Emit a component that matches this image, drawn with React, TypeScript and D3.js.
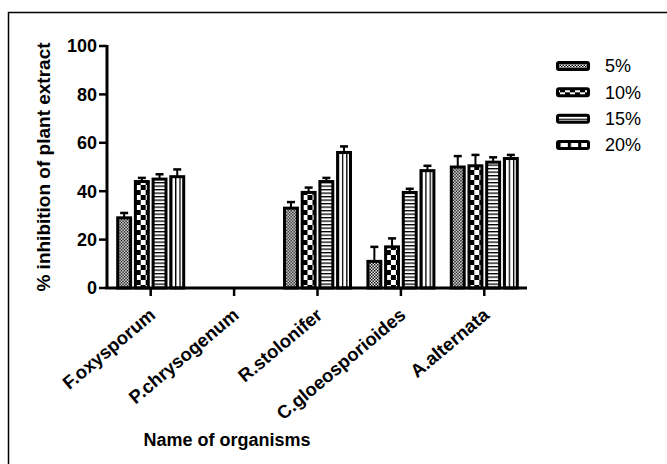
import * as d3 from 'd3';

// organisms on the x axis
const categories = ['F.oxysporum', 'P.chrysogenum', 'R.stolonifer', 'C.gloeosporioides', 'A.alternata'];
const seriesNames = ['5%', '10%', '15%', '20%'];

// mean % inhibition per concentration
const mean5 = [29, 0, 33, 11, 50];
const mean10 = [44, 0, 39.5, 17, 50.5];
const mean15 = [45, 0, 44, 39.5, 52];
const mean20 = [46, 0, 56, 48.5, 53.5];

// error (upper half only)
const err5 = [2, 0, 2.5, 6, 4.5];
const err10 = [1.5, 0, 2, 3.5, 4.5];
const err15 = [2, 0, 1.5, 1.5, 2];
const err20 = [3, 0, 2.5, 2, 1.5];

const yTicks = [0, 20, 40, 60, 80, 100];

const means = [mean5, mean10, mean15, mean20];
const errs = [err5, err10, err15, err20];
const patternIds = ['p5', 'p10', 'p15', 'p20'];

const width = 667;
const height = 464;
const font = 'Arial, "Liberation Sans", sans-serif';

const App = () => {
  const axisX = 107;
  const axisEnd = 527;

  const x0 = d3.scaleBand()
    .domain(categories)
    .range([109, 526]);

  const x1 = d3.scaleBand()
    .domain(seriesNames)
    .range([-33, 33])
    .paddingInner(0.27);

  const y = d3.scaleLinear()
    .domain([0, 100])
    .range([288, 46]);

  const legendY = d3.scalePoint()
    .domain(seriesNames)
    .range([66, 145]);

  return (
    <svg
      width={width}
      height={height}
      viewBox={`0 0 ${width} ${height}`}
      style={{ position: 'absolute', left: 0, top: 0, background: '#fff' }}
    >
      <defs>
        <pattern id="p5" patternUnits="userSpaceOnUse" width={3} height={3}>
          <rect width={3} height={3} fill="#fff" />
          <rect width={1.5} height={1.5} fill="#000" />
          <rect x={1.5} y={1.5} width={1.5} height={1.5} fill="#000" />
        </pattern>
        <pattern id="p10" patternUnits="userSpaceOnUse" width={10} height={10}>
          <rect width={10} height={10} fill="#000" />
          <rect width={5} height={5} fill="#fff" />
          <rect x={5} y={5} width={5} height={5} fill="#fff" />
        </pattern>
        <pattern id="p15" patternUnits="userSpaceOnUse" width={4} height={3.5}>
          <rect width={4} height={3.5} fill="#fff" />
          <rect width={4} height={1.3} fill="#000" />
        </pattern>
        <pattern id="p20" patternUnits="objectBoundingBox" patternContentUnits="objectBoundingBox" width={0.3333} height={1}>
          <rect width={0.3333} height={1} fill="#fff" />
          <rect width={0.1} height={1} fill="#000" />
        </pattern>
      </defs>

      {/* outer frame */}
      <rect x={8.5} y={12.5} width={700} height={500} fill="none" stroke="#000" strokeWidth={1.5} />

      {/* bars */}
      {categories.map((cat, ci) => (
        <g key={cat} transform={`translate(${x0(cat) + x0.bandwidth() / 2},0)`}>
          {seriesNames.map((s, si) => {
            const v = means[si][ci];
            if (!v) return null;
            const e = errs[si][ci];
            const bx = x1(s);
            const cx = bx + x1.bandwidth() / 2;
            return (
              <g key={s}>
                <line x1={cx} x2={cx} y1={y(v)} y2={y(v + e)} stroke="#000" strokeWidth={2} />
                <line x1={cx - 4} x2={cx + 4} y1={y(v + e)} y2={y(v + e)} stroke="#000" strokeWidth={2.5} />
                <rect
                  x={bx}
                  y={y(v)}
                  width={x1.bandwidth()}
                  height={y(0) - y(v)}
                  fill={`url(#${patternIds[si]})`}
                  stroke="#000"
                  strokeWidth={3}
                />
              </g>
            );
          })}
        </g>
      ))}

      {/* y axis */}
      <line x1={axisX} x2={axisX} y1={y(100) - 1} y2={y(0)} stroke="#000" strokeWidth={3} />
      {yTicks.map(t => (
        <g key={t}>
          <line x1={axisX - 8} x2={axisX} y1={y(t)} y2={y(t)} stroke="#000" strokeWidth={2.5} />
          <text
            x={axisX - 10}
            y={y(t)}
            dy="0.36em"
            textAnchor="end"
            fontFamily={font}
            fontWeight="bold"
            fontSize={18}
          >{t}</text>
        </g>
      ))}
      <text
        transform={`translate(50,${(y(0) + y(100)) / 2}) rotate(-90)`}
        textAnchor="middle"
        fontFamily={font}
        fontWeight="bold"
        fontSize={19}
      >% inhibition of plant extract</text>

      {/* x axis */}
      <line x1={axisX - 1.5} x2={axisEnd} y1={y(0)} y2={y(0)} stroke="#000" strokeWidth={3} />
      {categories.map(cat => {
        const cx = x0(cat) + x0.bandwidth() / 2;
        return (
          <g key={cat}>
            <line x1={cx} x2={cx} y1={y(0)} y2={y(0) + 8} stroke="#000" strokeWidth={2.5} />
            <text
              transform={`translate(${cx + 6},${y(0) + 29}) rotate(-40)`}
              textAnchor="end"
              fontFamily={font}
              fontWeight="bold"
              fontSize={18.5}
            >{cat}</text>
          </g>
        );
      })}
      <text
        x={227}
        y={446}
        textAnchor="middle"
        fontFamily={font}
        fontWeight="bold"
        fontSize={18}
      >Name of organisms</text>

      {/* legend */}
      {seriesNames.map((s, si) => (
        <g key={s} transform={`translate(0,${legendY(s)})`}>
          <rect
            x={557.5}
            y={-3.5}
            width={31}
            height={7}
            rx={1.5}
            fill={`url(#${patternIds[si]})`}
            stroke="#000"
            strokeWidth={3}
          />
          <text x={605} y={0} dy="0.36em" fontFamily={font} fontSize={18}>{s}</text>
        </g>
      ))}
    </svg>
  );
};

export default App;
